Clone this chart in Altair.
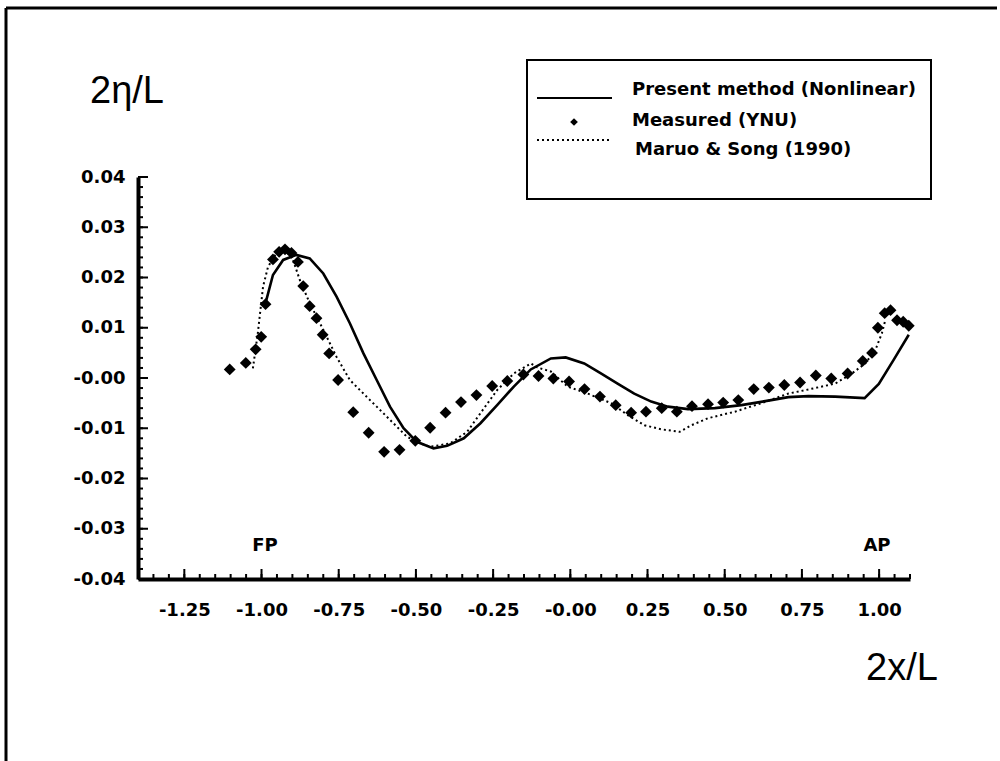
import altair as alt
import pandas as pd

# ---------------- data ----------------
meas_x = [-1.103, -1.051, -1.019, -1.001, -0.987, -0.963, -0.943, -0.924, -0.903, -0.882,
          -0.865, -0.844, -0.822, -0.802, -0.781, -0.752, -0.703, -0.653, -0.603, -0.553,
          -0.502, -0.454, -0.404, -0.354, -0.304, -0.253, -0.204, -0.152, -0.103, -0.055,
          -0.004, 0.046, 0.096, 0.147, 0.197, 0.245, 0.296, 0.345, 0.394, 0.446,
          0.495, 0.544, 0.594, 0.643, 0.693, 0.744, 0.795, 0.845, 0.898, 0.947,
          0.977, 0.996, 1.018, 1.037, 1.058, 1.078, 1.096]
meas_y = [0.0017, 0.0030, 0.0057, 0.0082, 0.0147, 0.0236, 0.0251, 0.0256, 0.0249, 0.0231,
          0.0183, 0.0143, 0.0119, 0.0086, 0.0049, -0.0004, -0.0068, -0.0109, -0.0147, -0.0143,
          -0.0125, -0.0099, -0.0069, -0.0048, -0.0034, -0.0016, -0.0006, 0.0007, 0.0004, -0.0001,
          -0.0007, -0.0022, -0.0037, -0.0054, -0.0069, -0.0067, -0.0060, -0.0067, -0.0056, -0.0052,
          -0.0049, -0.0044, -0.0022, -0.0019, -0.0014, -0.0009, 0.0005, -0.0001, 0.0009, 0.0034,
          0.0050, 0.0100, 0.0129, 0.0135, 0.0115, 0.0112, 0.0104]

present_x = [-0.990, -0.963, -0.930, -0.887, -0.844, -0.800, -0.757, -0.714, -0.670, -0.627,
             -0.584, -0.540, -0.497, -0.443, -0.399, -0.345, -0.291, -0.237, -0.183, -0.128,
             -0.063, -0.015, 0.045, 0.099, 0.153, 0.207, 0.262, 0.316, 0.381, 0.468,
             0.554, 0.641, 0.706, 0.771, 0.858, 0.953, 0.999, 1.047, 1.096]
present_y = [0.0142, 0.0205, 0.0235, 0.0245, 0.0238, 0.0208, 0.0162, 0.0109, 0.0049, -0.0004,
             -0.0057, -0.0100, -0.0127, -0.0140, -0.0135, -0.0120, -0.0090, -0.0054, -0.0017, 0.0017,
             0.0039, 0.0041, 0.0029, 0.0009, -0.0011, -0.0031, -0.0047, -0.0057, -0.0062, -0.0060,
             -0.0054, -0.0045, -0.0038, -0.0036, -0.0037, -0.0040, -0.0012, 0.0036, 0.0086]

maruo_x = [-1.028, -1.012, -0.995, -0.979, -0.952, -0.919, -0.898, -0.876, -0.844, -0.800,
           -0.757, -0.714, -0.670, -0.627, -0.573, -0.529, -0.486, -0.454, -0.389, -0.334,
           -0.291, -0.237, -0.183, -0.128, -0.107, -0.063, -0.009, 0.056, 0.132, 0.186,
           0.240, 0.294, 0.354, 0.392, 0.446, 0.533, 0.619, 0.706, 0.793, 0.858,
           0.912, 0.955, 0.988, 1.009, 1.020]
maruo_y = [0.0019, 0.0089, 0.0182, 0.0221, 0.0249, 0.0251, 0.0235, 0.0195, 0.0149, 0.0096,
           0.0042, -0.0004, -0.0031, -0.0057, -0.0090, -0.0117, -0.0130, -0.0137, -0.0130, -0.0107,
           -0.0070, -0.0024, 0.0009, 0.0029, 0.0021, 0.0013, -0.0017, -0.0031, -0.0050, -0.0074,
           -0.0094, -0.0102, -0.0107, -0.0094, -0.0080, -0.0067, -0.0050, -0.0031, -0.0020, -0.0011,
           0.0009, 0.0029, 0.0056, 0.0089, 0.0115]

x_labels = [-1.25, -1.00, -0.75, -0.50, -0.25, 0.00, 0.25, 0.50, 0.75, 1.00]
y_labels = [-0.04, -0.03, -0.02, -0.01, 0.00, 0.01, 0.02, 0.03, 0.04]
x_minor = [round(-1.40 + 0.05 * i, 2) for i in range(51)]
y_minor = [round(-0.04 + 0.002 * i, 3) for i in range(41)]

legend_labels = ["Present method (Nonlinear)", "Measured (YNU)", "Maruo & Song (1990)"]

# ---------------- layout ----------------
W, H = 772, 402
PL, PT = 138, 177
TICK_FONT = "DejaVu Sans"

xs = alt.Scale(domain=[-1.4, 1.1], nice=False, zero=False)
ys = alt.Scale(domain=[-0.04, 0.04], nice=False, zero=False)

# hyphen-minus everywhere, zero shown as "-0.00" like the original
lab_expr = ("abs(datum.value) < 1e-9 ? '-0.00' : "
            "((datum.value < 0 ? '-' : '') + format(abs(datum.value), '.2f'))")

x_axis = alt.Axis(values=x_labels, labelExpr=lab_expr, title=None, grid=False,
                  ticks=False, tickSize=0, domain=True, domainWidth=4, domainColor="black",
                  labelFont=TICK_FONT, labelFontSize=18, labelFontWeight="bold",
                  labelColor="black", labelPadding=22, labelFlush=False)
y_axis = alt.Axis(values=y_labels, labelExpr=lab_expr, title=None, grid=False,
                  ticks=False, tickSize=0, domain=True, domainWidth=4, domainColor="black",
                  labelFont=TICK_FONT, labelFontSize=18, labelFontWeight="bold",
                  labelColor="black", labelPadding=13, labelFlush=False)


def X(field):
    return alt.X(field, scale=xs, axis=x_axis)


def Y(field):
    return alt.Y(field, scale=ys, axis=y_axis)


present_df = pd.DataFrame({"x": present_x, "y": present_y})
maruo_df = pd.DataFrame({"x": maruo_x, "y": maruo_y})
meas_df = pd.DataFrame({"x": meas_x, "y": meas_y})

present = alt.Chart(present_df).mark_line(color="black", strokeWidth=2.6).encode(
    x=X("x:Q"), y=Y("y:Q"), order="x:Q")
maruo = alt.Chart(maruo_df).mark_line(color="black", strokeWidth=2, strokeDash=[2, 3]).encode(
    x=X("x:Q"), y=Y("y:Q"), order="x:Q")
meas = alt.Chart(meas_df).mark_point(shape="diamond", filled=True, color="black",
                                     size=140, opacity=1).encode(x=X("x:Q"), y=Y("y:Q"))

# ticks (inward)
xmaj = alt.Chart(pd.DataFrame({"x": x_labels})).mark_rule(color="black", strokeWidth=2).encode(
    x=X("x:Q"), y=alt.value(H), y2=alt.value(H - 10))
xmin = alt.Chart(pd.DataFrame({"x": x_minor})).mark_rule(color="black", strokeWidth=2).encode(
    x=X("x:Q"), y=alt.value(H), y2=alt.value(H - 5))
ymaj = alt.Chart(pd.DataFrame({"y": y_labels})).mark_rule(color="black", strokeWidth=2).encode(
    y=Y("y:Q"), x=alt.value(0), x2=alt.value(10))
ymin = alt.Chart(pd.DataFrame({"y": y_minor})).mark_rule(color="black", strokeWidth=2).encode(
    y=Y("y:Q"), x=alt.value(0), x2=alt.value(5))

one = pd.DataFrame({"a": [0]})


def txt(s, x, y, size, weight="normal", font="Liberation Sans", align="left", baseline="middle"):
    return alt.Chart(one).mark_text(text=s, fontSize=size, fontWeight=weight, font=font,
                                    align=align, baseline=baseline, color="black").encode(
        x=alt.value(x), y=alt.value(y))


# legend
leg_box = alt.Chart(one).mark_rect(filled=False, stroke="black", strokeWidth=2).encode(
    x=alt.value(527 - PL), x2=alt.value(931 - PL), y=alt.value(60 - PT), y2=alt.value(199 - PT))
leg_line = alt.Chart(one).mark_rule(color="black", strokeWidth=2).encode(
    x=alt.value(537 - PL), x2=alt.value(612 - PL), y=alt.value(98 - PT))
leg_dot = alt.Chart(one).mark_rule(color="black", strokeWidth=2, strokeDash=[2, 3]).encode(
    x=alt.value(537 - PL), x2=alt.value(612 - PL), y=alt.value(140 - PT))
leg_diam = alt.Chart(one).mark_point(shape="diamond", filled=True, color="black", size=60,
                                     opacity=1).encode(x=alt.value(574 - PL), y=alt.value(122 - PT))
leg_t1 = txt(legend_labels[0], 632 - PL, 90 - PT, 18, "bold", font=TICK_FONT)
leg_t2 = txt(legend_labels[1], 632 - PL, 121 - PT, 18, "bold", font=TICK_FONT)
leg_t3 = txt(legend_labels[2], 635 - PL, 150 - PT, 18, "bold", font=TICK_FONT)

ytitle = txt("2\u03b7/L", 90 - PL, 103 - PT, 38, baseline="alphabetic")
xtitle = txt("2x/L", 866 - PL, 680 - PT, 38, baseline="alphabetic")
fp = txt("FP", 265 - PL, 546 - PT, 18, "bold", font=TICK_FONT, align="center")
ap = txt("AP", 877 - PL, 546 - PT, 18, "bold", font=TICK_FONT, align="center")

frame_top = alt.Chart(one).mark_rule(color="black", strokeWidth=3).encode(
    x=alt.value(6 - PL), x2=alt.value(997 - PL), y=alt.value(8 - PT))
frame_left = alt.Chart(one).mark_rule(color="black", strokeWidth=3).encode(
    x=alt.value(6 - PL), y=alt.value(8 - PT), y2=alt.value(761 - PT))

chart = alt.layer(
    present, maruo, meas, xmaj, xmin, ymaj, ymin,
    leg_box, leg_line, leg_dot, leg_diam, leg_t1, leg_t2, leg_t3,
    ytitle, xtitle, fp, ap, frame_top, frame_left,
).properties(
    width=W, height=H, autosize="none", background="white",
    padding={"left": PL, "top": PT, "right": 1000 - PL - W, "bottom": 761 - PT - H},
).configure_view(stroke=None)

chart.save("out.html", embed_options={"renderer": "svg", "actions": False})
